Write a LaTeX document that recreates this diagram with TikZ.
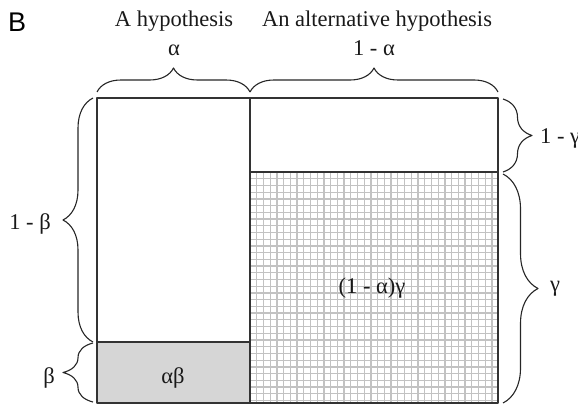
\documentclass[tikz,border=0pt]{standalone}
\usepackage{fontspec}
\setmainfont{Liberation Serif}
\newfontfamily\labelsans{Liberation Sans}
\usetikzlibrary{decorations.pathreplacing}
\begin{document}
\begin{tikzpicture}[x=1pt,y=-1pt,line join=round,
  box/.style={draw=black!80,line width=1.2pt},
  brc/.style={decorate,decoration={brace,amplitude=#1},line width=1.1pt,draw=black!85},
  txt/.style={font=\fontsize{22.5}{26}\selectfont,inner sep=0pt,text=black!90}]
\useasboundingbox (0,0) rectangle (578,404);
% fills
\fill[black!16] (97,342) rectangle (250,403);
\begin{scope}
\clip (250,172) rectangle (498,403);
\foreach \i in {0,...,37} {
  \draw[black!24,line width=1.3pt] ({250+6.72*\i},172) -- ({250+6.72*\i},403);
}
\foreach \j in {0,...,35} {
  \draw[black!24,line width=1.3pt] (250,{172+6.72*\j}) -- (498,{172+6.72*\j});
}
\end{scope}
% outlines
\draw[box] (97,98) rectangle (498,403);
\draw[box] (250,98) -- (250,403);
\draw[box] (250,172) -- (498,172);
\draw[box] (97,342) -- (250,342);
% braces
\draw[brc=24pt] (97,92) -- (250,92);
\draw[brc=24pt] (250,92) -- (498,92);
\draw[brc=30pt] (93,342) -- (93,98);
\draw[brc=30pt] (93,402) -- (93,343);
\draw[brc=29pt] (503,99) -- (503,172);
\draw[brc=35pt] (503,174) -- (503,403);
% texts
\node[font=\labelsans\fontsize{27}{30}\selectfont,anchor=base west,inner sep=0pt] (B) at (8,32) {B};
\node[txt,anchor=base] (hypA) at (174,27) {A hypothesis};
\node[txt,anchor=base] (hypB) at (377,27) {An alternative hypothesis};
\node[txt,anchor=base] (alpha) at (174,56) {α};
\node[txt,anchor=base] (onealpha) at (374,56) {1 - α};
\node[txt,anchor=base east] (onebeta) at (51,229) {1 - β};
\node[txt,anchor=base east] (beta) at (55,383) {β};
\node[txt,anchor=base] (ab) at (173,383) {αβ};
\node[txt,anchor=base] (ag) at (372,293) {(1 - α)γ};
\node[txt,anchor=base west] (onegamma) at (540,143) {1 - γ};
\node[txt,anchor=base west] (gamma) at (550,291) {γ};
\end{tikzpicture}
\end{document}
